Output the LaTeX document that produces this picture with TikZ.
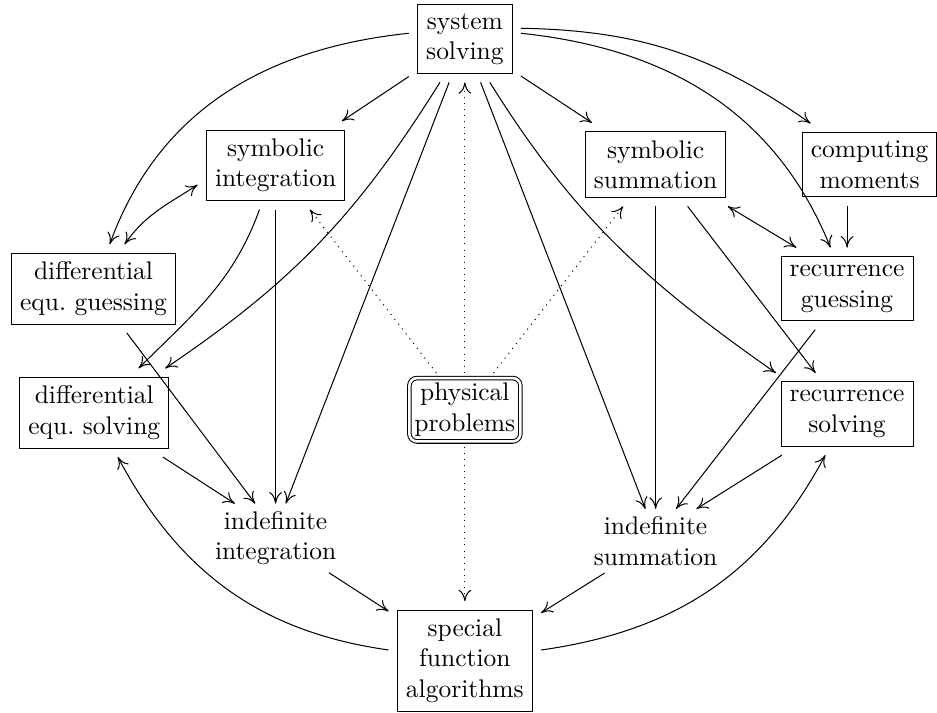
\documentclass[tikz,border=0pt]{standalone}
\usetikzlibrary{arrows}
\usetikzlibrary{arrows.meta}
\usetikzlibrary{positioning}
\begin{document}
\begin{tikzpicture}[>={To[length=4.5pt,width=5pt]},
    box/.style={draw,align=center,outer sep=3.5pt},
    plain/.style={align=center,inner sep=1pt,outer sep=2pt},
    source/.style={draw,double,double distance=1pt,rounded corners=3pt,align=center,inner sep=2pt,outer sep=2pt}]
          \useasboundingbox (0,0) rectangle (12.92,9.83);
          \node[box] (systemSolving) at (6.41,9.29) {system\\solving};
          \node[box] (symbolicIntegration) at (3.80,7.55) {symbolic\\integration};
          \node[box] (symbolicSummation) at (9.04,7.56) {symbolic\\summation};
          \node[box] (computingMoments) at (11.99,7.56) {computing\\moments};
          \node[box] (diffGuessing) at (1.29,5.85) {differential\\equ.\ guessing};
          \node[box] (recGuessing) at (11.68,5.85) {recurrence\\guessing};
          \node[box] (diffSolving) at (1.30,4.14) {differential\\equ.\ solving};
          \node[box] (recSolving) at (11.68,4.12) {recurrence\\solving};
          \node[source] (physicalProblems) at (6.41,4.18) {physical\\problems};
          \node[plain] (indefIntegration) at (3.80,2.41) {indefinite\\integration};
          \node[plain] (indefSummation) at (9.04,2.37) {indefinite\\summation};
          \node[box] (specialFunctions) at (6.41,0.72) {special\\function\\algorithms};
          % from system solving
          \draw[->] (systemSolving) -- (symbolicIntegration);
          \draw[->] (systemSolving) -- (symbolicSummation);
          \draw[->] (systemSolving.174) to[out=186,in=70] (diffGuessing);
          \draw[->] (systemSolving.11) to[out=-1,in=145] (computingMoments.145);
          \draw[->] (systemSolving.6) to[out=-6,in=112] (recGuessing);
          \draw[->] (systemSolving.240) to[out=238,in=34] (diffSolving.32);
          \draw[->] (systemSolving.300) to[out=302,in=145] (recSolving.150);
          \draw[->] (systemSolving.250) -- ([xshift=4pt]indefIntegration.north);
          \draw[->] (systemSolving.290) -- ([xshift=-4pt]indefSummation.north);
          % integration side
          \draw[<->] (diffGuessing) to[out=55,in=213] (symbolicIntegration.194);
          \draw[->] (symbolicIntegration) to[out=250,in=45] (diffSolving);
          \draw[->] (symbolicIntegration) -- (indefIntegration);
          \draw[->] (diffGuessing) -- ([xshift=-8pt]indefIntegration.north);
          \draw[->] (diffSolving) -- ([xshift=-16pt]indefIntegration.north);
          \draw[->] (indefIntegration) -- (specialFunctions);
          \draw[->] (specialFunctions) to[out=172,in=298] (diffSolving);
          % summation side
          \draw[->] (symbolicSummation) -- (indefSummation);
          \draw[->] (symbolicSummation) -- (recSolving);
          \draw[<->] (symbolicSummation.-30) -- (recGuessing.141);
          \draw[->] (recGuessing |- computingMoments.south) -- (recGuessing);
          \draw[->] (recGuessing) -- ([xshift=8pt]indefSummation.north);
          \draw[->] (recSolving) -- ([xshift=16pt]indefSummation.north);
          \draw[->] (indefSummation) -- (specialFunctions);
          \draw[->] (specialFunctions) to[out=8,in=242] (recSolving);
          % physical problems
          \draw[->,dotted] (physicalProblems) -- (systemSolving);
          \draw[->,dotted] (physicalProblems) -- (symbolicIntegration);
          \draw[->,dotted] (physicalProblems) -- (symbolicSummation);
          \draw[->,dotted] (physicalProblems) -- (specialFunctions);
        \end{tikzpicture}
\end{document}
